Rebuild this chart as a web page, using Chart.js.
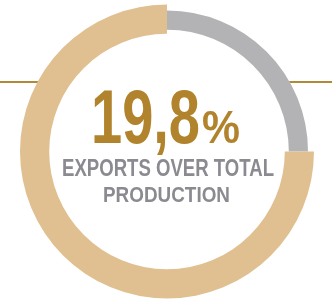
<!DOCTYPE html>
<html>
<head>
<meta charset="utf-8">
<script src="https://cdn.jsdelivr.net/npm/chart.js@4"></script>
<style>
  html, body { margin: 0; padding: 0; background: #fff; }
  #wrap { width: 332px; height: 300px; position: relative; }
</style>
</head>
<body>
<div id="wrap"><canvas id="myChart1"></canvas></div>
<script>
//------------------ データ ------------------//
const categories = ['Exports', 'Rest of production'];   // 区分
const shareValues = [25, 75];                            // 円弧の割合 (絵から読み取り)
const headlineValue = '19,8';                            // 見出しの数値
const headlineUnit = '%';
const subtitleLines = ['EXPORTS OVER TOTAL', 'PRODUCTION'];
const sliceColors = ['#b3b3b5', '#e0c091'];
//-------------------------------------------//

const NARROW = '"Liberation Sans Narrow", "Liberation Sans", Arial, sans-serif';

// 灰色の円弧だけ細くする
const thinSlicePlugin = {
  id: 'thinSlice',
  afterDatasetsUpdate(chart) {
    const arc = chart.getDatasetMeta(0).data[0];
    arc.outerRadius -= 6;
    arc.innerRadius += 4;
  }
};

// 背景の横線
const guideLinePlugin = {
  id: 'guideLine',
  beforeDatasetsDraw(chart) {
    const ctx = chart.ctx;
    const arc = chart.getDatasetMeta(0).data[0];
    ctx.save();
    ctx.strokeStyle = '#b08a3a';
    ctx.lineWidth = 2;
    ctx.beginPath();
    ctx.moveTo(0, 82);
    ctx.lineTo(chart.width, 82);
    ctx.stroke();
    // 円の内側は白
    ctx.fillStyle = '#fff';
    ctx.beginPath();
    ctx.arc(arc.x, arc.y, arc.outerRadius, 0, Math.PI * 2);
    ctx.fill();
    ctx.restore();
  }
};

// 幅に合わせて文字を描く
function drawFit(ctx, text, font, left, right, baseline, color) {
  ctx.save();
  ctx.font = font;
  ctx.fillStyle = color;
  ctx.textBaseline = 'alphabetic';
  ctx.textAlign = 'left';
  const w = ctx.measureText(text).width;
  ctx.translate(left, baseline);
  ctx.scale((right - left) / w, 1);
  ctx.fillText(text, 0, 0);
  ctx.restore();
}

const centerTextPlugin = {
  id: 'centerText',
  afterDraw(chart) {
    const ctx = chart.ctx;
    drawFit(ctx, headlineValue, 'bold 76px ' + NARROW, 91, 200, 143, '#b0832c');
    drawFit(ctx, headlineUnit, 'bold 46px ' + NARROW, 202, 240, 143, '#b0832c');
    drawFit(ctx, subtitleLines[0], 'bold 23px ' + NARROW, 62, 274, 176, '#8a8a90');
    drawFit(ctx, subtitleLines[1], 'bold 22px ' + NARROW, 103, 230, 202, '#8a8a90');
  }
};

new Chart(document.getElementById('myChart1'), {
  type: 'doughnut',
  data: {
    labels: categories,
    datasets: [{
      data: shareValues,
      backgroundColor: sliceColors,
      borderWidth: 0
    }]
  },
  options: {
    responsive: true,
    maintainAspectRatio: false,
    animation: false,
    radius: 147,
    cutout: 119,
    rotation: 0,
    layout: { padding: { left: 2, top: 3, right: 0, bottom: 0 } },
    plugins: {
      legend: { display: false },
      tooltip: { enabled: false }
    }
  },
  plugins: [thinSlicePlugin, guideLinePlugin, centerTextPlugin]
});
</script>
</body>
</html>
